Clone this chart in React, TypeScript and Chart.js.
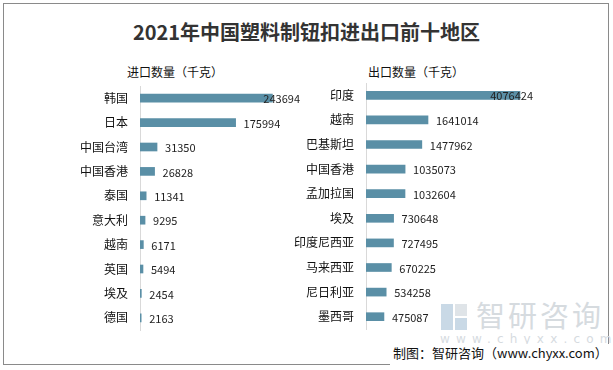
import React, { useEffect, useRef } from "react";
import { Chart, registerables } from "chart.js";

Chart.register(...registerables);

const TITLE = "2021年中国塑料制钮扣进出口前十地区";
const importTitle = "进口数量（千克）";
const exportTitle = "出口数量（千克）";
const importCategories = ["韩国", "日本", "中国台湾", "中国香港", "泰国", "意大利", "越南", "英国", "埃及", "德国"];
const importValues = [243694, 175994, 31350, 26828, 11341, 9295, 6171, 5494, 2454, 2163];
const exportCategories = ["印度", "越南", "巴基斯坦", "中国香港", "孟加拉国", "埃及", "印度尼西亚", "马来西亚", "尼日利亚", "墨西哥"];
const exportValues = [4076424, 1641014, 1477962, 1035073, 1032604, 730648, 727495, 670225, 534258, 475087];
const importMax = 300000;
const exportMax = 4500000;
const SOURCE = "制图：智研咨询（www.chyxx.com）";

const FONT = "'Noto Sans CJK SC', 'Noto Sans', sans-serif";
const BAR_COLOR = "#5a8fa6";

const valueLabels = {
  id: "valueLabels",
  afterDatasetsDraw(chart: any) {
    const ctx = chart.ctx;
    const area = chart.chartArea;
    const meta = chart.getDatasetMeta(0);
    const data = chart.data.datasets[0].data;
    ctx.save();
    ctx.font = `11px ${FONT}`;
    ctx.fillStyle = "#222";
    ctx.textBaseline = "middle";
    ctx.textAlign = "left";
    meta.data.forEach((el: any, i: number) => {
      const t = String(data[i]);
      const w = ctx.measureText(t).width;
      const x = Math.min(el.x + 8, area.right - 3 - w);
      ctx.fillText(t, x, el.y + 1);
    });
    ctx.restore();
  },
};

function makeChart(
  canvas: HTMLCanvasElement,
  labels: string[],
  values: number[],
  max: number,
  axisWidth: number,
  padding: { top: number; bottom: number; right: number }
) {
  return new Chart(canvas, {
    type: "bar",
    data: {
      labels,
      datasets: [
        {
          data: values,
          backgroundColor: BAR_COLOR,
          barThickness: 8,
        },
      ],
    },
    options: {
      indexAxis: "y",
      responsive: false,
      animation: false,
      devicePixelRatio: 1,
      layout: { padding: { left: 0, top: padding.top, bottom: padding.bottom, right: padding.right } },
      plugins: {
        legend: { display: false },
        tooltip: { enabled: false },
        title: { display: false },
      },
      scales: {
        x: { display: false, min: 0, max },
        y: {
          grid: { display: false, drawTicks: false },
          border: { display: true, color: "#d9d9d9", width: 1 },
          ticks: {
            padding: 12,
            color: "#111",
            font: { size: 12, family: FONT },
          },
          afterFit(scale: any) {
            scale.width = axisWidth;
            scale.paddingTop = 0;
            scale.paddingBottom = 0;
          },
        },
      },
    },
    plugins: [valueLabels],
  } as any);
}

export default function App() {
  const leftRef = useRef<HTMLCanvasElement>(null);
  const rightRef = useRef<HTMLCanvasElement>(null);

  useEffect(() => {
    const c1 = makeChart(leftRef.current!, importCategories, importValues, importMax, 140, {
      top: 6,
      bottom: 10,
      right: 7,
    });
    const c2 = makeChart(rightRef.current!, exportCategories, exportValues, exportMax, 86, {
      top: 3,
      bottom: 11,
      right: 74,
    });
    return () => {
      c1.destroy();
      c2.destroy();
    };
  }, []);

  return (
    <div
      style={{
        position: "absolute",
        left: 0,
        top: 0,
        width: 613,
        height: 370,
        background: "#fff",
        fontFamily: FONT,
        overflow: "hidden",
      }}
    >
      <div
        style={{
          position: "absolute",
          left: 3,
          top: 3,
          width: 604,
          height: 360,
          border: "1px solid #8a8a8a",
        }}
      />
      <div
        style={{
          position: "absolute",
          left: 0,
          top: 18,
          width: 613,
          textAlign: "center",
          fontSize: 20,
          fontWeight: "bold",
          color: "#333",
          lineHeight: "28px",
        }}
      >
        {TITLE}
      </div>
      <div style={{ position: "absolute", left: 125, top: 63, width: 100, textAlign: "center", fontSize: 12, color: "#111", lineHeight: "18px" }}>
        {importTitle}
      </div>
      <div style={{ position: "absolute", left: 366, top: 63, width: 100, textAlign: "center", fontSize: 12, color: "#111", lineHeight: "18px" }}>
        {exportTitle}
      </div>
      {/* watermark */}
      <div style={{ position: "absolute", left: 441, top: 304, width: 12, height: 26, background: "#c9d9e6" }} />
      <div style={{ position: "absolute", left: 455, top: 304, width: 12, height: 12, background: "#dfe4e8" }} />
      <div style={{ position: "absolute", left: 455, top: 318, width: 12, height: 12, background: "#c9d9e6" }} />
      <div
        style={{
          position: "absolute",
          left: 476,
          top: 296,
          fontSize: 29,
          color: "#d6dbdf",
          letterSpacing: 3,
          lineHeight: "36px",
          whiteSpace: "nowrap",
        }}
      >
        智研咨询
      </div>
      <div
        style={{
          position: "absolute",
          left: 440,
          top: 332,
          fontSize: 12,
          color: "#d6dbdf",
          letterSpacing: 6.2,
          lineHeight: "14px",
          whiteSpace: "nowrap",
          fontFamily: "'DejaVu Sans', sans-serif",
        }}
      >
        www.chyxx.com
      </div>
      <div
        style={{
          position: "absolute",
          left: 390,
          top: 344,
          width: 223,
          height: 26,
          paddingLeft: 3,
          boxSizing: "border-box",
          fontSize: 13,
          color: "#111",
          lineHeight: "18px",
          whiteSpace: "nowrap",
          background: "#fff",
        }}
      >
        {SOURCE}
      </div>
      <canvas ref={leftRef} width={310} height={260} style={{ position: "absolute", left: 0, top: 80 }} />
      <canvas ref={rightRef} width={330} height={260} style={{ position: "absolute", left: 280, top: 80 }} />
    </div>
  );
}
